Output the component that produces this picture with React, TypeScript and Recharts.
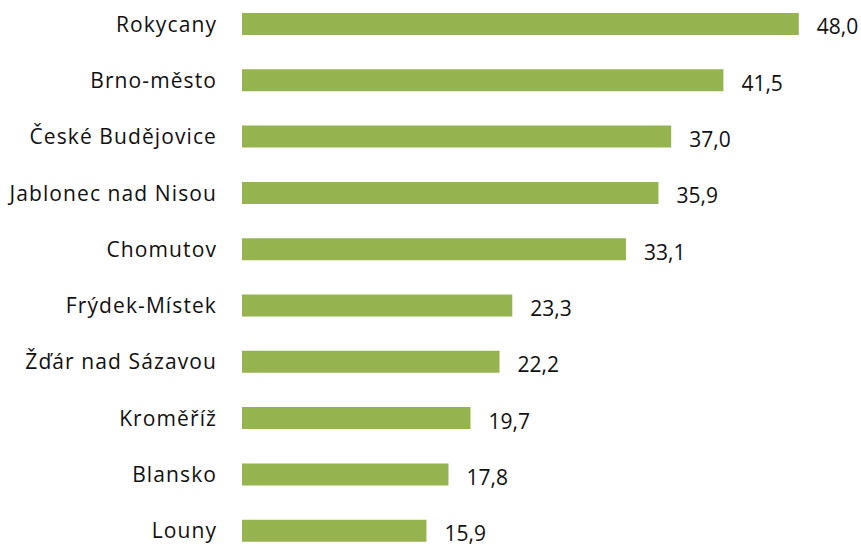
import { BarChart, Bar, XAxis, YAxis, LabelList } from 'recharts';

const districts = [
  'Rokycany',
  'Brno-město',
  'České Budějovice',
  'Jablonec nad Nisou',
  'Chomutov',
  'Frýdek-Místek',
  'Žďár nad Sázavou',
  'Kroměříž',
  'Blansko',
  'Louny',
];

const values = [48.0, 41.5, 37.0, 35.9, 33.1, 23.3, 22.2, 19.7, 17.8, 15.9];

const data = districts.map((name, i) => ({ name, value: values[i] }));

const FONT = '"Open Sans", sans-serif';

function formatValue(v: number): string {
  return v.toFixed(1).replace('.', ',');
}

export default function App() {
  return (
    <div style={{ position: 'absolute', left: 0, top: -4, fontFamily: FONT }}>
      <BarChart
        width={861}
        height={600}
        data={data}
        layout="vertical"
        margin={{ top: 0, right: 39, left: 0, bottom: 37 }}
      >
        <XAxis type="number" domain={[0, 50]} hide />
        <YAxis
          type="category"
          dataKey="name"
          width={242}
          axisLine={false}
          tickLine={false}
          tickMargin={19}
          tick={{ fontSize: 21, fill: '#111', fontFamily: FONT, letterSpacing: 1.1 }}
        />
        <Bar dataKey="value" fill="#95B34F" barSize={22} isAnimationActive={false}>
          <LabelList
            dataKey="value"
            position="right"
            offset={18}
            formatter={(v: number) => formatValue(v)}
            style={{ fontSize: 21, fill: '#111', fontFamily: FONT }}
            dy={3}
          />
        </Bar>
      </BarChart>
    </div>
  );
}
